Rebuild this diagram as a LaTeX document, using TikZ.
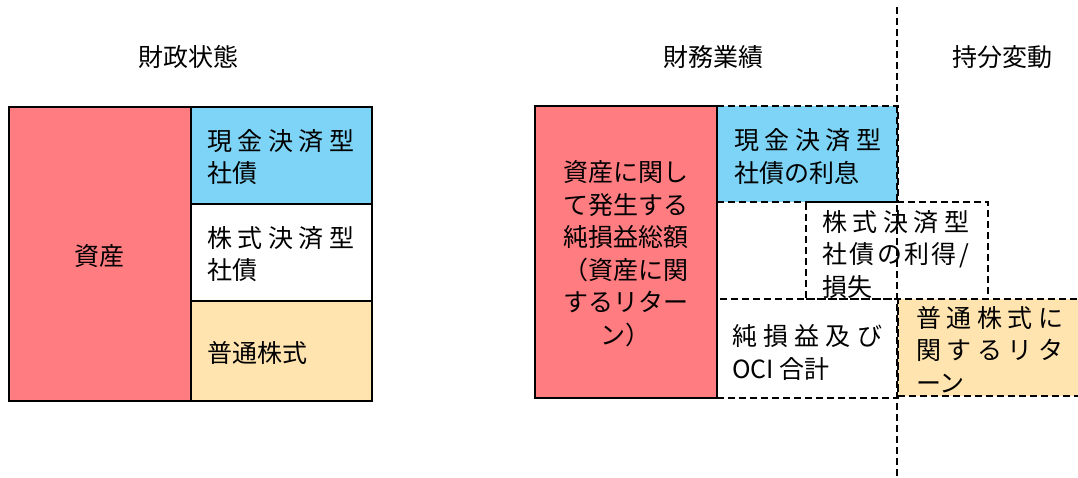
\documentclass[tikz,border=0pt]{standalone}
\usepackage{fontspec}
\setmainfont{Noto Sans CJK JP}
\definecolor{assetred}{HTML}{FF7C80}
\definecolor{cashblue}{HTML}{7DD4F6}
\definecolor{ordorange}{HTML}{FFE4B0}
\newcommand\sprd[1]{\makebox[147pt][s]{#1}}
\begin{document}
\begin{tikzpicture}[x=1pt,y=-1pt,
  box/.style={draw=black,line width=1.6pt,inner sep=0pt,anchor=north west},
  dbox/.style={box,dash pattern=on 7pt off 4pt},
  dline/.style={draw=black,line width=1.6pt,dash pattern=on 7pt off 4pt},
  lbl/.style={font=\fontsize{25}{32.5}\selectfont,inner sep=0pt,align=left,anchor=west},
  clbl/.style={font=\fontsize{25}{32.5}\selectfont,inner sep=0pt,align=center,anchor=center},
  ttl/.style={font=\fontsize{25}{30}\selectfont,inner sep=0pt}]
\useasboundingbox (0,0) rectangle (1078,477);
% titles
\node[ttl] (t1) at (188,57) {財政状態};
\node[ttl] (t2) at (713,57) {財務業績};
\node[ttl] (t3) at (1002,57) {持分変動};
% left group
\node[box,fill=assetred,minimum width=182pt,minimum height=294pt] (asset) at (8,106) {};
\node[box,fill=cashblue,minimum width=181pt,minimum height=97pt] (cash) at (190,106) {};
\node[box,fill=white,minimum width=181pt,minimum height=97pt] (share) at (190,203) {};
\node[box,fill=ordorange,minimum width=181pt,minimum height=100pt] (ord) at (190,300) {};
\node[clbl] (assetT) at ([yshift=-2pt]asset.center) {資産};
\node[lbl] (cashT) at ([xshift=17pt,yshift=-2pt]cash.west) {\sprd{現\hfill 金\hfill 決\hfill 済\hfill 型}\\社債};
\node[lbl] (shareT) at ([xshift=17pt,yshift=-2pt]share.west) {\sprd{株\hfill 式\hfill 決\hfill 済\hfill 型}\\社債};
\node[lbl] (ordT) at ([xshift=17pt,yshift=-2pt]ord.west) {普通株式};
% right group
\node[dbox,fill=cashblue,minimum width=181pt,minimum height=96pt] (int) at (716,105) {};
\node[dbox,fill=ordorange,minimum width=195pt,minimum height=97pt] (eq) at (897,298) {};
\node[dbox,minimum width=181pt,minimum height=99pt] (oci) at (716,298) {};
\node[box,fill=assetred,minimum width=182pt,minimum height=292pt] (ret) at (534,105) {};
\node[dbox,minimum width=182pt,minimum height=97pt] (gain) at (805,201) {};
\coordinate (vtop) at (897,7);
\coordinate (vbot) at (897,477);
\draw[dline] (vtop) -- (vbot);
\node[clbl] (retT) at ([yshift=-2pt]ret.center) {資産に関し\\て発生する\\純損益総額\\（資産に関\\するリター\\ン）};
\node[lbl] (intT) at ([xshift=18pt,yshift=-3pt]int.west) {\sprd{現\hfill 金\hfill 決\hfill 済\hfill 型}\\社債の利息};
\node[lbl] (gainT) at ([xshift=17pt,yshift=-4pt]gain.west) {\sprd{株\hfill 式\hfill 決\hfill 済\hfill 型}\\\sprd{社\hfill 債\hfill の\hfill 利\hfill 得\hfill /}\\損失};
\node[lbl] (ociT) at ([xshift=16pt,yshift=-4pt]oci.west) {\makebox[150pt][s]{純\hfill 損\hfill 益\hfill 及\hfill び}\\OCI 合計};
\node[lbl] (eqT) at ([xshift=19pt,yshift=-2pt]eq.west) {\sprd{普\hfill 通\hfill 株\hfill 式\hfill に}\\\sprd{関\hfill す\hfill る\hfill リ\hfill タ}\\ーン};
\end{tikzpicture}
\end{document}
